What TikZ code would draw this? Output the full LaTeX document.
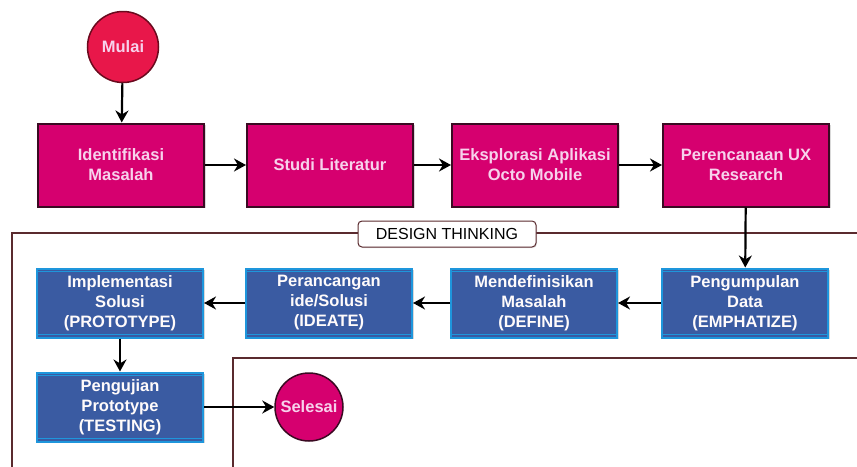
\documentclass[tikz,border=0pt]{standalone}
\usepackage{fontspec}
\setmainfont{Liberation Sans}
\usepackage{tikz}
\usetikzlibrary{positioning,arrows.meta,shadows}
\definecolor{pinkfill}{HTML}{D6006F}
\definecolor{pinkline}{HTML}{3A0A22}
\definecolor{pinktext}{HTML}{F7D2EC}
\definecolor{redfill}{HTML}{E8174A}
\definecolor{redline}{HTML}{6A0A1E}
\definecolor{bluefill}{HTML}{3A5BA2}
\definecolor{blueline}{HTML}{1E96DC}
\definecolor{framecol}{HTML}{5A2A2E}
\tikzset{pinkbox/.style={rectangle, draw=pinkline, fill=pinkfill, line width=2pt, minimum width=166pt, minimum height=83pt, align=center, text=pinktext, font=\fontsize{16.5}{20}\selectfont\bfseries, drop shadow={shadow xshift=1.5pt, shadow yshift=-1.5pt, opacity=0.3}},
bluebox/.style={rectangle, draw=blueline, fill=bluefill, line width=2pt, minimum width=166pt, minimum height=69pt, inner sep=1pt, align=center, text=white!93!pink, font=\fontsize{16.5}{20}\selectfont\bfseries, drop shadow={shadow xshift=1.5pt, shadow yshift=-1.5pt, opacity=0.3}},
startnode/.style={circle, draw=redline, fill=redfill, line width=1.5pt, minimum size=71pt, text=pinktext, font=\fontsize{16.5}{20}\selectfont\bfseries},
endnode/.style={circle, draw=pinkline, fill=pinkfill, line width=1.5pt, minimum size=68pt, inner sep=1pt, text=pinktext, font=\fontsize{16.5}{20}\selectfont\bfseries},
flow/.style={line width=2.2pt, -{Stealth[length=12pt, width=13pt]}},}

\begin{document}
\begin{tikzpicture}[x=1pt, y=-1pt, node distance=209pt]
\useasboundingbox (0,0) rectangle (857,466);
% design thinking frames
\draw[framecol, line width=1.2pt] (870,233) -- (12,233) -- (12,480);
\draw[framecol, line width=1.2pt] (870,358) -- (233,358) -- (233,480);
\node [rectangle, rounded corners=4pt, draw=framecol, fill=white, line width=1pt, minimum width=178pt, minimum height=26pt, font=\fontsize{16}{19}\selectfont, drop shadow={shadow xshift=1pt, shadow yshift=-1pt, opacity=0.25}] (dt) at (447,234) {DESIGN THINKING};

\node [startnode] (mulai) at (123,47) {Mulai};
\node [pinkbox] (idn) at (121,165) {Identifikasi\\Masalah};
\node [pinkbox] (studi) [right of=idn] {Studi Literatur};
\node [pinkbox] (eksp) [right of=studi, node distance=205pt] {Eksplorasi Aplikasi\\Octo Mobile};
\node [pinkbox] (ux) [right of=eksp, node distance=211pt] {Perencanaan UX\\Research};

\node [bluebox] (empat) at (745,303) {Pengumpulan\\Data\\(EMPHATIZE)};
\node [bluebox] (define) [left of=empat, node distance=211pt] {Mendefinisikan\\Masalah\\(DEFINE)};
\node [bluebox] (ideate) [left of=define, node distance=205pt] {Perancangan\\ide/Solusi\\(IDEATE)};
\node [bluebox] (proto) [left of=ideate] {Implementasi\\Solusi\\(PROTOTYPE)};
\node [bluebox] (uji) [below of=proto, node distance=104pt] {Pengujian\\Prototype\\(TESTING)};
\node [endnode] (selesai) at (309,407) {Selesai};

% lines inside the blue boxes
\foreach \b in {empat, define, ideate, proto, uji} {
  \draw[blueline, line width=1.5pt] ([yshift=-4pt]\b.north west) -- ([yshift=-4pt]\b.north east);
  \draw[blueline, line width=1.5pt] ([yshift=4pt]\b.south west) -- ([yshift=4pt]\b.south east);
}

\draw[flow] (mulai) -- (idn);
\draw[flow] (idn) -- (studi);
\draw[flow] (studi) -- (eksp);
\draw[flow] (eksp) -- (ux);
\draw[flow] (ux) -- (empat);
\draw[flow] (empat) -- (define);
\draw[flow] (define) -- (ideate);
\draw[flow] (ideate) -- (proto);
\draw[flow] (proto) -- (uji);
\draw[flow] (uji) -- (selesai);
\end{tikzpicture}
\end{document}
